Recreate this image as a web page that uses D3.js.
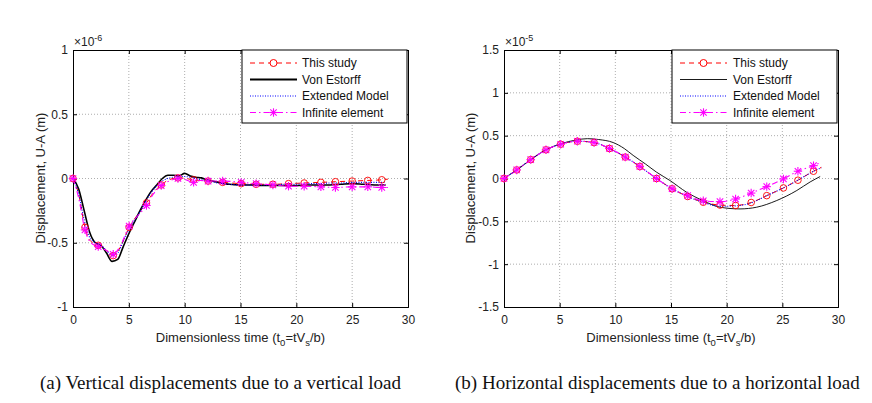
<!DOCTYPE html>
<html><head><meta charset="utf-8">
<script src="https://cdn.jsdelivr.net/npm/d3@7"></script>
<style>body{margin:0;background:#fff}svg{display:block}</style>
</head><body>
<svg id="c" width="872" height="403"></svg>
<script>
// ---------- data (values in units of the axis multiplier) ----------
const xTicks = [0,5,10,15,20,25,30];
const leftYTicks = [-1,-0.5,0,0.5,1];
const rightYTicks = [-1.5,-1,-0.5,0,0.5,1,1.5];
const seriesNames = ["This study","Von Estorff","Extended Model","Infinite element"];

// (a) vertical, x1e-6
const aStudyT = [0,0.5,1.07,1.5,2.26,3,3.6,4.2,5.03,5.8,6.58,7.2,7.9,8.6,9.4,10.1,10.8,12.1,13.4,15.06,16.4,17.9,19.3,20.7,22.2,23.5,25,26.4,27.65,28.2];
const aStudyV = [0,-0.12,-0.38,-0.48,-0.52,-0.56,-0.6,-0.54,-0.38,-0.28,-0.19,-0.11,-0.05,-0.01,0.005,0,-0.01,-0.02,-0.03,-0.04,-0.045,-0.045,-0.04,-0.035,-0.03,-0.025,-0.02,-0.015,-0.01,-0.005];
const aVonT = [0,0.5,1,1.5,2,2.5,3,3.5,4,4.5,5,5.5,6,6.5,7,7.5,8,8.5,9,9.5,10,10.5,11,11.5,12,13,14,15,16,17,18,19,20,21,22,23,24,25,26,27,28];
const aVonV = [0,-0.08,-0.25,-0.42,-0.5,-0.52,-0.58,-0.645,-0.63,-0.53,-0.43,-0.34,-0.25,-0.17,-0.1,-0.05,0,0.025,0.025,0.02,0.04,0.02,0.01,0.005,-0.01,-0.03,-0.045,-0.05,-0.05,-0.055,-0.055,-0.055,-0.055,-0.05,-0.05,-0.05,-0.045,-0.04,-0.045,-0.05,-0.05];
const aExtT = [0,0.5,1,1.5,2,2.5,3,3.5,4,4.5,5,6,7,8,9,10,11,12,13,14,15,16,17,18,19,20,21,22,23,24,25,26,27,28];
const aExtV = [0,-0.12,-0.32,-0.46,-0.5,-0.52,-0.56,-0.6,-0.58,-0.49,-0.4,-0.26,-0.11,-0.02,0.01,0.015,0,-0.02,-0.035,-0.045,-0.05,-0.05,-0.05,-0.05,-0.045,-0.045,-0.04,-0.04,-0.035,-0.035,-0.03,-0.03,-0.03,-0.03];
const aInfT = [0,0.5,1.07,1.6,2.26,3,3.6,4.2,5.03,5.8,6.58,7.2,7.9,8.6,9.4,10.1,10.8,11.4,12.1,13.4,15.06,16.4,17.9,19.3,20.7,22.2,23.5,25,26.4,27.65,28.2];
const aInfV = [0,-0.15,-0.4,-0.5,-0.53,-0.56,-0.59,-0.53,-0.37,-0.29,-0.21,-0.12,-0.055,-0.02,0,-0.01,-0.03,-0.015,-0.02,-0.02,-0.03,-0.04,-0.05,-0.06,-0.06,-0.065,-0.07,-0.065,-0.065,-0.07,-0.07];
const aMarkT = [0,1.07,2.26,3.6,5.03,6.58,7.9,9.4,10.8,12.1,13.4,15.06,16.4,17.9,19.3,20.7,22.2,23.5,25,26.4,27.65];

// (b) horizontal, x1e-5
const bInfT = [0,1.14,2.4,3.77,5.09,6.59,8.09,9.47,10.9,12.2,13.7,15.1,16.5,17.9,19.4,20.8,22.2,23.6,25.1,26.4,27.8,28.5];
const bInfV = [0,0.1,0.22,0.335,0.4,0.435,0.42,0.35,0.25,0.14,0,-0.12,-0.2,-0.26,-0.27,-0.24,-0.17,-0.095,-0.005,0.085,0.15,0.19];
const bStudyT = [0,1.14,2.4,3.77,5.09,6.59,8.09,9.47,10.9,12.2,13.7,15.1,16.5,17.9,19.4,20.8,22.2,23.6,25.1,26.4,27.8,28.5];
const bStudyV = [0,0.1,0.22,0.335,0.4,0.435,0.42,0.35,0.25,0.14,0,-0.12,-0.21,-0.277,-0.31,-0.315,-0.28,-0.2,-0.11,-0.02,0.085,0.13];
const bExtT = [0,1.14,2.4,3.77,5.09,6.59,8.09,9.47,10.9,12.2,13.7,15.1,16.5,17.9,19.4,20.8,22.2,23.6,25.1,26.4,27.8,28.5];
const bExtV = [0,0.1,0.22,0.335,0.4,0.435,0.42,0.35,0.25,0.14,0,-0.12,-0.21,-0.28,-0.325,-0.32,-0.285,-0.2,-0.11,-0.02,0.085,0.125];
const bVonT = [0,1.14,2.4,3.77,5.09,6.5,7.5,8.5,9.8,10.8,11.6,12.7,13.7,14.9,16.4,17.9,19.4,21.2,22.7,24.5,26.3,27.5,28.4];
const bVonV = [0,0.1,0.22,0.335,0.405,0.45,0.465,0.455,0.42,0.35,0.27,0.17,0.074,-0.023,-0.16,-0.26,-0.335,-0.355,-0.335,-0.257,-0.14,-0.04,0.023];
const bMarkT = [0,1.14,2.4,3.77,5.09,6.59,8.09,9.47,10.9,12.2,13.7,15.1,16.5,17.9,19.4,20.8,22.2,23.6,25.1,26.4,27.8];

const zip = (t,v) => t.map((d,i)=>({t:d,v:v[i]}));

const svg = d3.select("#c");
const FONT = "'Liberation Sans', Arial, sans-serif";

function panel(o){
  const x = d3.scaleLinear().domain([0,30]).range([o.x0,o.x1]);
  const y = d3.scaleLinear().domain(o.yDom).range([307,50]);
  const g = svg.append("g");
  g.append("rect").attr("x",o.x0).attr("y",50).attr("width",o.x1-o.x0).attr("height",257).attr("fill","#fff");
  // grid
  g.append("g").selectAll("line").data(xTicks.slice(1,-1)).join("line")
    .attr("x1",d=>x(d)).attr("x2",d=>x(d)).attr("y1",50).attr("y2",307)
    .attr("stroke","#999").attr("stroke-width",0.8).attr("stroke-dasharray","1,2");
  g.append("g").selectAll("line").data(o.yTicks.slice(1,-1)).join("line")
    .attr("y1",d=>y(d)).attr("y2",d=>y(d)).attr("x1",o.x0).attr("x2",o.x1)
    .attr("stroke","#999").attr("stroke-width",0.8).attr("stroke-dasharray","1,2");
  // axes
  g.append("g").attr("transform","translate(0,307)")
    .call(d3.axisBottom(x).tickValues(xTicks).tickSize(-4).tickPadding(8).tickFormat(d3.format("d")));
  g.append("g").attr("transform",`translate(${o.x0},0)`)
    .call(d3.axisLeft(y).tickValues(o.yTicks).tickSize(-4).tickPadding(5).tickFormat(d=>String(d)));
  g.append("g").attr("transform","translate(0,50)")
    .call(d3.axisTop(x).tickValues(xTicks).tickSize(-4).tickFormat(""));
  g.append("g").attr("transform",`translate(${o.x1},0)`)
    .call(d3.axisRight(y).tickValues(o.yTicks).tickSize(-4).tickFormat(""));
  g.selectAll(".domain").attr("stroke","#000");
  g.selectAll(".tick line").attr("stroke","#000");
  g.selectAll(".tick text").attr("font-family",FONT).attr("font-size",12).attr("fill","#222");
  // multiplier
  const m = g.append("text").attr("x",o.x0+1).attr("y",46).attr("font-family",FONT).attr("font-size",12).attr("fill","#222");
  m.append("tspan").text("×10");
  m.append("tspan").attr("dy",-5).attr("font-size",9).text(o.exp);
  // axis titles
  const xt = g.append("text").attr("x",(o.x0+o.x1)/2).attr("y",342).attr("text-anchor","middle")
    .attr("font-family",FONT).attr("font-size",13).attr("fill","#222");
  xt.append("tspan").text("Dimensionless time (t");
  xt.append("tspan").attr("dy",3.5).attr("font-size",9.5).text("0");
  xt.append("tspan").attr("dy",-3.5).text("=tV");
  xt.append("tspan").attr("dy",3.5).attr("font-size",9.5).text("s");
  xt.append("tspan").attr("dy",-3.5).text("/b)");
  g.append("text").attr("transform",`translate(${o.yl},178) rotate(-90)`).attr("text-anchor","middle")
    .attr("dy","0.35em").attr("font-family",FONT).attr("font-size",13).attr("fill","#222")
    .text("Displacement, U-A (m)");
  // caption
  g.append("text").attr("x",o.cap).attr("y",389).attr("font-family","'Liberation Serif','Times New Roman',serif")
    .attr("font-size",19).attr("fill","#111").text(o.caption);

  // lines
  const line = d3.line().x(d=>x(d.t)).y(d=>y(d.v)).curve(d3.curveMonotoneX);
  const lg = g.append("g");
  const styles = o.styles;
  o.series.forEach((s,i)=>{
    lg.append("path").datum(s).attr("d",line).attr("fill","none")
      .attr("stroke",styles[i].c).attr("stroke-width",styles[i].w).attr("stroke-dasharray",styles[i].dash);
  });
  // markers
  const ms = (arr)=>arr.filter(d=>o.markT.includes(d.t));
  lg.append("g").selectAll("circle").data(ms(o.series[0])).join("circle")
    .attr("cx",d=>x(d.t)).attr("cy",d=>y(d.v)).attr("r",3.3).attr("fill","none").attr("stroke","#ff0000").attr("stroke-width",0.9);
  const ast = lg.append("g").selectAll("g").data(ms(o.series[3])).join("g")
    .attr("transform",d=>`translate(${x(d.t)},${y(d.v)})`);
  drawAst(ast);
  legend(g,o.x1-166,o.legendTextX,styles);
}

function drawAst(sel){
  const r=4.2, r2=3.2;
  [[-r,0,r,0],[0,-r,0,r],[-r2,-r2,r2,r2],[-r2,r2,r2,-r2]].forEach(a=>{
    sel.append("line").attr("x1",a[0]).attr("y1",a[1]).attr("x2",a[2]).attr("y2",a[3])
      .attr("stroke","#ff00ff").attr("stroke-width",1.1);
  });
}

function legend(g,lx,tx,styles){
  const lg = g.append("g");
  lg.append("rect").attr("x",lx).attr("y",50).attr("width",165).attr("height",73)
    .attr("fill","#fff").attr("stroke","#000").attr("stroke-width",1);
  const rows=[63,79.5,96,112.5];
  seriesNames.forEach((n,i)=>{
    const yy=rows[i];
    lg.append("line").attr("x1",lx+8).attr("x2",lx+55).attr("y1",yy).attr("y2",yy)
      .attr("stroke",styles[i].c).attr("stroke-width",styles[i].lw||styles[i].w).attr("stroke-dasharray",styles[i].dash);
    if(i===0) lg.append("circle").attr("cx",lx+31.5).attr("cy",yy).attr("r",3.5).attr("fill","#fff").attr("stroke","#ff0000");
    if(i===3){ const a=lg.append("g").attr("transform",`translate(${lx+31.5},${yy})`); drawAst(a); }
    lg.append("text").attr("x",lx+tx).attr("y",yy).attr("dy","0.35em").attr("font-family",FONT)
      .attr("font-size",12).attr("fill","#111").text(n);
  });
}

panel({x0:73,x1:408,yDom:[-1,1],yTicks:leftYTicks,exp:"-6",yl:40,cap:40,
  caption:"(a) Vertical displacements due to a vertical load",
  series:[zip(aStudyT,aStudyV),zip(aVonT,aVonV),zip(aExtT,aExtV),zip(aInfT,aInfV)],
  markT:aMarkT,legendTextX:60,
  styles:[{c:"#ff0000",w:1,dash:"5,4"},{c:"#000",w:1.6,lw:2.2,dash:null},{c:"#0000ff",w:1.1,dash:"1,1.5"},{c:"#ff00ff",w:1.1,dash:"6,3,1.5,3"}]});
panel({x0:504,x1:838,yDom:[-1.5,1.5],yTicks:rightYTicks,exp:"-5",yl:470,cap:455,
  caption:"(b) Horizontal displacements due to a horizontal load",
  series:[zip(bStudyT,bStudyV),zip(bVonT,bVonV),zip(bExtT,bExtV),zip(bInfT,bInfV)],
  markT:bMarkT,legendTextX:61,
  styles:[{c:"#ff0000",w:1,dash:"5,4"},{c:"#000",w:0.9,dash:null},{c:"#0000ff",w:1.1,dash:"1,1.5"},{c:"#ff00ff",w:1.1,dash:"6,3,1.5,3"}]});
</script>
</body></html>
